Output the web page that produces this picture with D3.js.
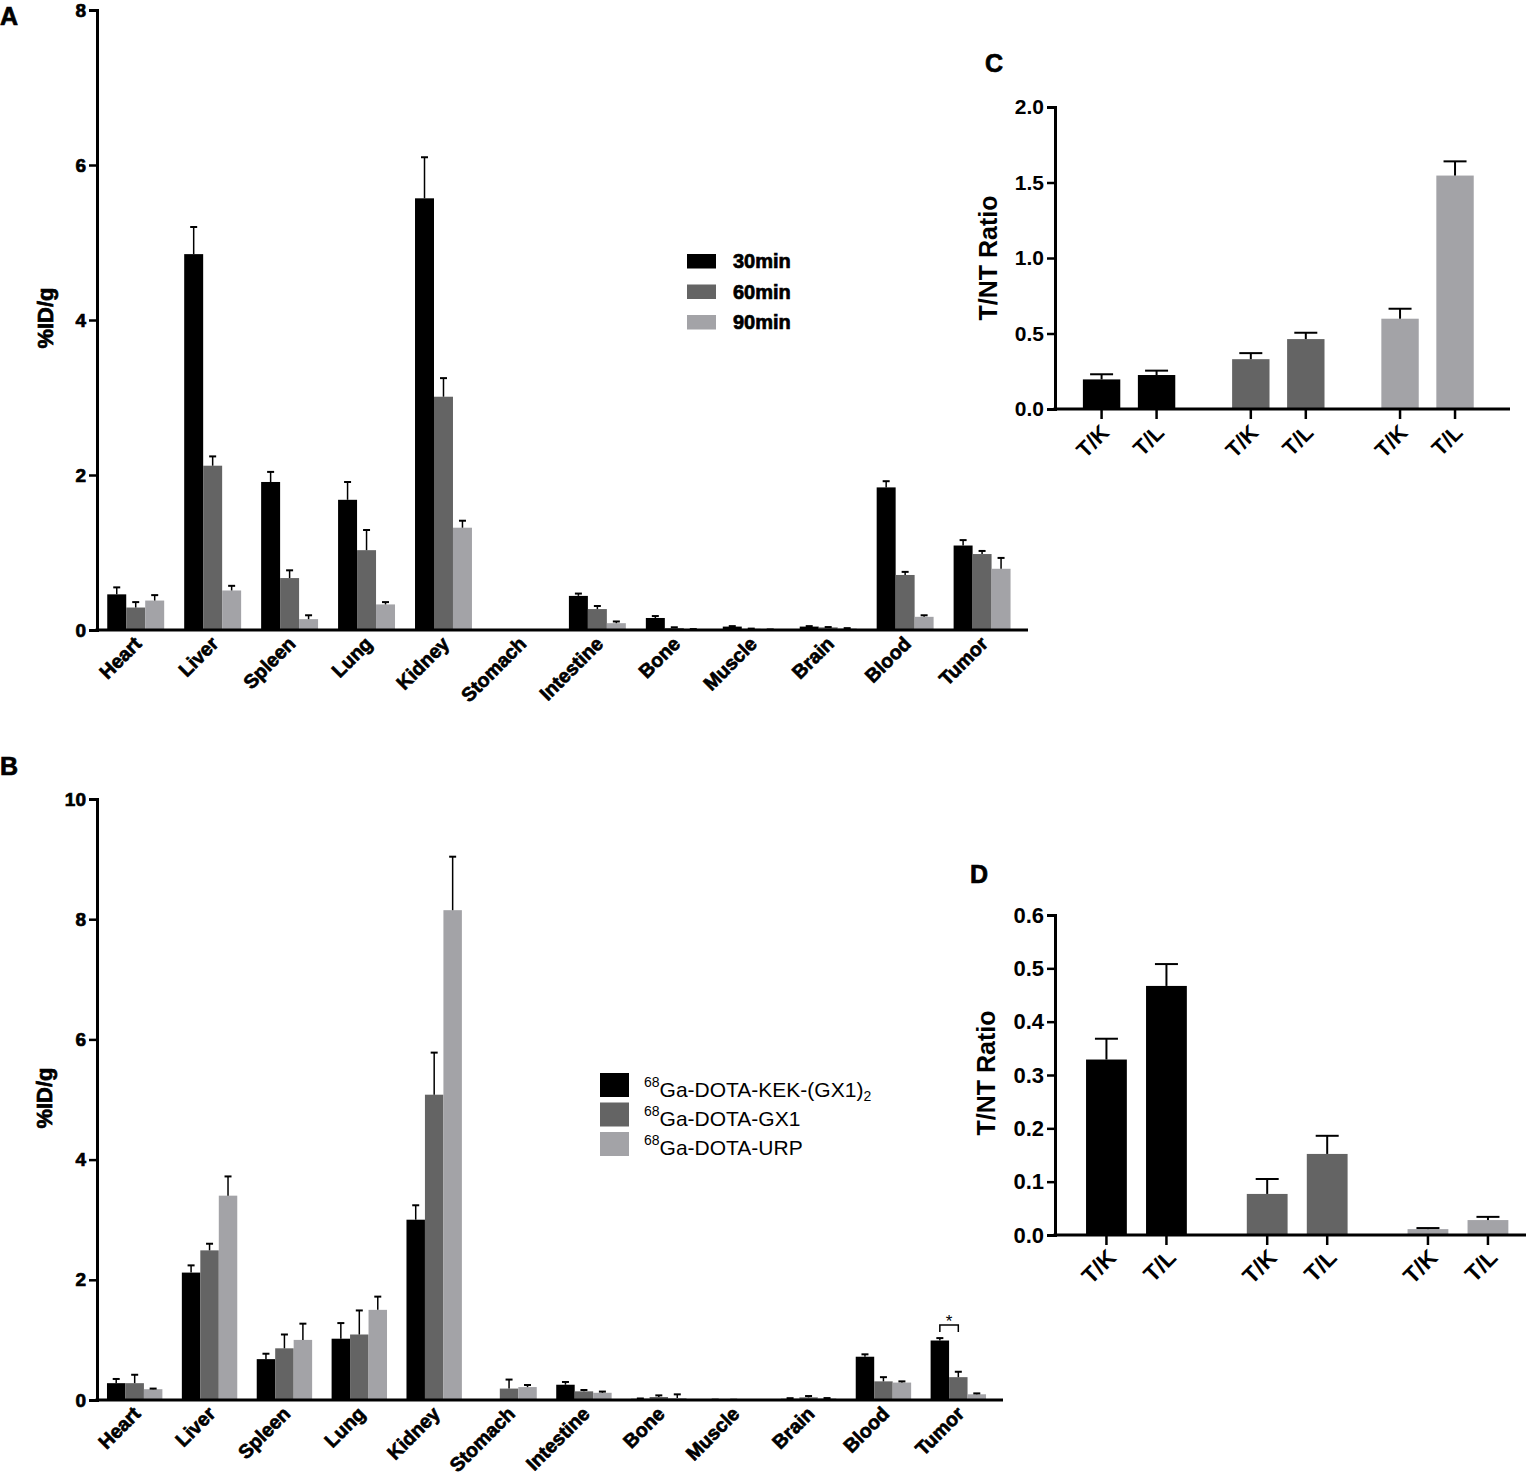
<!DOCTYPE html>
<html>
<head>
<meta charset="utf-8">
<script src="https://cdn.jsdelivr.net/npm/d3@7"></script>
<style>
  body { margin: 0; background: #fff; }
  svg { font-family: "Liberation Sans", Arial, sans-serif; }
  .bold { font-weight: bold; }
  .heavy { font-weight: bold; stroke: #000; stroke-width: 0.7px; paint-order: stroke; }
</style>
</head>
<body>
<svg width="1526" height="1476"></svg>
<script>
const svg = d3.select('svg');

// ---- data ----
const organs = ['Heart', 'Liver', 'Spleen', 'Lung', 'Kidney', 'Stomach',
  'Intestine', 'Bone', 'Muscle', 'Brain', 'Blood', 'Tumor'];

// panel A: time points
const timeSeries = ['30min', '60min', '90min'];
const a30 = [0.46, 4.85, 1.91, 1.68, 5.57, 0, 0.44, 0.155, 0.044, 0.044, 1.84, 1.09];
const a30Err = [0.09, 0.35, 0.13, 0.23, 0.53, 0, 0.03, 0.025, 0.006, 0.006, 0.08, 0.07];
const a60 = [0.29, 2.12, 0.67, 1.03, 3.01, 0, 0.27, 0.026, 0.015, 0.034, 0.71, 0.98];
const a60Err = [0.07, 0.12, 0.10, 0.26, 0.24, 0, 0.04, 0.009, 0.003, 0.004, 0.04, 0.04];
const a90 = [0.38, 0.51, 0.14, 0.33, 1.32, 0, 0.088, 0.01, 0.006, 0.02, 0.17, 0.79];
const a90Err = [0.07, 0.06, 0.05, 0.03, 0.09, 0, 0.022, 0.002, 0.001, 0.004, 0.02, 0.14];
const aTicks = [0, 2, 4, 6, 8];

// panel B: tracers
const tracers = ['KEK-(GX1)', 'GX1', 'URP'];
const b1 = [0.28, 2.12, 0.68, 1.02, 3.00, 0, 0.254, 0.02, 0.005, 0.02, 0.72, 0.99];
const b1Err = [0.07, 0.12, 0.09, 0.26, 0.24, 0, 0.046, 0.005, 0.001, 0.01, 0.04, 0.04];
const b2 = [0.28, 2.49, 0.86, 1.09, 5.08, 0.19, 0.144, 0.05, 0.003, 0.044, 0.31, 0.38];
const b2Err = [0.14, 0.11, 0.23, 0.40, 0.70, 0.15, 0.022, 0.027, 0.001, 0.022, 0.07, 0.09];
const b3 = [0.18, 3.40, 1.00, 1.50, 8.15, 0.215, 0.12, 0.033, 0, 0.028, 0.29, 0.095];
const b3Err = [0.01, 0.32, 0.27, 0.22, 0.89, 0.035, 0.02, 0.061, 0, 0.004, 0.02, 0.015];
const bTicks = [0, 2, 4, 6, 8, 10];

// panels C and D: ratios
const ratioLabels = ['T/K', 'T/L'];
const c30 = [0.196, 0.225], c30Err = [0.034, 0.029];
const c60 = [0.33, 0.463], c60Err = [0.04, 0.042];
const c90 = [0.598, 1.546], c90Err = [0.066, 0.094];
const cTicks = [0, 0.5, 1.0, 1.5, 2.0];

const dKek = [0.329, 0.467], dKekErr = [0.039, 0.041];
const dGx1 = [0.077, 0.152], dGx1Err = [0.028, 0.034];
const dUrp = [0.011, 0.028], dUrpErr = [0.002, 0.006];
const dTicks = [0, 0.1, 0.2, 0.3, 0.4, 0.5, 0.6];

const colors = ['#000000', '#646464', '#a3a3a7'];

// ---- grouped organ chart (A, B) ----
const organPanel = cfg => {
  const g = svg.append('g');
  const x0 = d3.scaleBand().domain(organs)
    .range([cfg.left, cfg.right])
    .paddingInner(0.26).paddingOuter(0.18).align(0.37);
  const x1 = d3.scaleBand().domain(d3.range(cfg.values.length))
    .range([0, x0.bandwidth()]);
  const y = d3.scaleLinear().domain(cfg.domain).range([cfg.bottom, cfg.top]);

  const rows = [];
  cfg.values.forEach((vals, s) => vals.forEach((v, i) =>
    rows.push({organ: organs[i], s, v, e: cfg.errors[s][i]})));

  g.selectAll('rect.bar').data(rows).enter().append('rect')
    .attr('x', d => x0(d.organ) + x1(d.s))
    .attr('y', d => y(d.v))
    .attr('width', x1.bandwidth())
    .attr('height', d => y(0) - y(d.v))
    .attr('fill', d => colors[d.s]);

  const errRows = rows.filter(d => d.v > 0);
  const cx = d => x0(d.organ) + x1(d.s) + x1.bandwidth() / 2;
  g.selectAll('line.stem').data(errRows).enter().append('line')
    .attr('x1', cx).attr('x2', cx)
    .attr('y1', d => y(d.v)).attr('y2', d => y(d.v + d.e))
    .attr('stroke', '#000').attr('stroke-width', 1.5);
  g.selectAll('line.cap').data(errRows).enter().append('line')
    .attr('x1', d => cx(d) - 3.5).attr('x2', d => cx(d) + 3.5)
    .attr('y1', d => y(d.v + d.e)).attr('y2', d => y(d.v + d.e))
    .attr('stroke', '#000').attr('stroke-width', 2);

  // y axis
  const yAxis = d3.axisLeft(y).tickValues(cfg.ticks).tickSize(8).tickPadding(3);
  const yG = g.append('g').attr('transform', `translate(${cfg.left},0)`).call(yAxis)
    .attr('font-family', null);
  yG.select('.domain').attr('stroke-width', 3);
  yG.selectAll('.tick line').attr('stroke-width', 2.5);
  yG.selectAll('.tick text').attr('class', 'heavy')
    .attr('font-size', 19).attr('fill', '#000');

  // x axis line (no ticks)
  g.append('line')
    .attr('x1', cfg.left - 1.5).attr('x2', cfg.right)
    .attr('y1', y(0)).attr('y2', y(0))
    .attr('stroke', '#000').attr('stroke-width', 3);

  g.selectAll('text.xlab').data(organs).enter().append('text')
    .attr('class', 'heavy')
    .attr('font-size', 19.5)
    .attr('text-anchor', 'end')
    .attr('transform', d =>
      `translate(${x0(d) + x0.bandwidth() / 2 + 7},${y(0) + 15}) rotate(-45)`)
    .text(d => d);

  g.append('text')
    .attr('class', 'heavy')
    .attr('font-size', 22)
    .attr('text-anchor', 'middle')
    .attr('transform', `translate(${cfg.labelX},${cfg.labelY}) rotate(-90)`)
    .text('%ID/g');

  return {g, x0, x1, y};
};

// ---- ratio chart (C, D) ----
const ratioPanel = cfg => {
  const g = svg.append('g');
  const groups = d3.range(cfg.values.length);
  const x0 = d3.scaleBand().domain(groups)
    .range([cfg.left, cfg.right])
    .paddingInner(cfg.padInner).paddingOuter(cfg.padOuter).align(cfg.align);
  const x1 = d3.scaleBand().domain(ratioLabels)
    .range([0, x0.bandwidth()])
    .paddingInner(0.32).paddingOuter(0.16);
  const y = d3.scaleLinear().domain(cfg.domain).range([cfg.bottom, cfg.top]);

  const rows = [];
  cfg.values.forEach((vals, s) => vals.forEach((v, i) =>
    rows.push({s, r: ratioLabels[i], v, e: cfg.errors[s][i]})));
  const cx = d => x0(d.s) + x1(d.r) + x1.bandwidth() / 2;

  g.selectAll('rect').data(rows).enter().append('rect')
    .attr('x', d => x0(d.s) + x1(d.r))
    .attr('y', d => y(d.v))
    .attr('width', x1.bandwidth())
    .attr('height', d => y(0) - y(d.v))
    .attr('fill', d => colors[d.s]);

  g.selectAll('line.stem').data(rows).enter().append('line')
    .attr('x1', cx).attr('x2', cx)
    .attr('y1', d => y(d.v)).attr('y2', d => y(d.v + d.e))
    .attr('stroke', '#000').attr('stroke-width', 2);
  g.selectAll('line.cap').data(rows).enter().append('line')
    .attr('x1', d => cx(d) - 11.5).attr('x2', d => cx(d) + 11.5)
    .attr('y1', d => y(d.v + d.e)).attr('y2', d => y(d.v + d.e))
    .attr('stroke', '#000').attr('stroke-width', 2);

  const yAxis = d3.axisLeft(y).tickValues(cfg.ticks)
    .tickFormat(d3.format('.1f')).tickSize(8).tickPadding(3);
  const yG = g.append('g').attr('transform', `translate(${cfg.left},0)`).call(yAxis)
    .attr('font-family', null);
  yG.select('.domain').attr('stroke-width', 3);
  yG.selectAll('.tick line').attr('stroke-width', 2.5);
  yG.selectAll('.tick text').attr('class', 'bold')
    .attr('font-size', cfg.tickSize).attr('fill', '#000');

  g.append('line')
    .attr('x1', cfg.left - 1.5).attr('x2', cfg.axisEnd)
    .attr('y1', y(0)).attr('y2', y(0))
    .attr('stroke', '#000').attr('stroke-width', 3);

  g.selectAll('line.xtick').data(rows).enter().append('line')
    .attr('x1', cx).attr('x2', cx)
    .attr('y1', y(0)).attr('y2', y(0) + 10)
    .attr('stroke', '#000').attr('stroke-width', 2.5);

  g.selectAll('text.xlab').data(rows).enter().append('text')
    .attr('class', 'bold')
    .attr('font-size', cfg.labelSize)
    .attr('text-anchor', 'end')
    .attr('transform', d => `translate(${cx(d) + cfg.labDx},${y(0) + cfg.labDy}) rotate(-45)`)
    .text(d => d.r);

  g.append('text')
    .attr('class', 'bold')
    .attr('font-size', 25)
    .attr('text-anchor', 'middle')
    .attr('transform', `translate(${cfg.labelX},${cfg.labelY}) rotate(-90)`)
    .text('T/NT Ratio');
};

// ---- A ----
organPanel({
  left: 97, right: 1028, top: 10, bottom: 630, domain: [0, 8], ticks: aTicks,
  values: [a30, a60, a90], errors: [a30Err, a60Err, a90Err],
  labelX: 53, labelY: 318
});

// legend A
const legA = svg.append('g');
legA.selectAll('rect').data(timeSeries).enter().append('rect')
  .attr('x', 687).attr('y', (d, i) => 254 + i * 30.5)
  .attr('width', 29).attr('height', 14.5)
  .attr('fill', (d, i) => colors[i]);
legA.selectAll('text').data(timeSeries).enter().append('text')
  .attr('class', 'heavy').attr('font-size', 20)
  .attr('x', 733).attr('y', (d, i) => 268 + i * 30.5)
  .text(d => d);

// ---- B ----
const pB = organPanel({
  left: 97, right: 1003, top: 799, bottom: 1400, domain: [0, 10], ticks: bTicks,
  values: [b1, b2, b3], errors: [b1Err, b2Err, b3Err],
  labelX: 52, labelY: 1098
});

// significance bracket on Tumor (tracer 1 vs tracer 2)
const bx = s => pB.x0('Tumor') + pB.x1(s) + pB.x1.bandwidth() / 2;
svg.append('path')
  .attr('d', `M${bx(0)},${pB.y(1.13)}V${pB.y(1.25)}H${bx(1)}V${pB.y(1.13)}`)
  .attr('fill', 'none').attr('stroke', '#000').attr('stroke-width', 1.5);
svg.append('text')
  .attr('x', (bx(0) + bx(1)) / 2).attr('y', pB.y(1.25) + 2)
  .attr('text-anchor', 'middle').attr('font-size', 17)
  .text('*');

// legend B
const legB = svg.append('g');
legB.selectAll('rect').data(tracers).enter().append('rect')
  .attr('x', 600).attr('y', (d, i) => 1073 + i * 29.5)
  .attr('width', 29).attr('height', 24)
  .attr('fill', (d, i) => colors[i]);
const legBText = legB.selectAll('text').data(tracers).enter().append('text')
  .attr('font-size', 21)
  .attr('x', 644).attr('y', (d, i) => 1097 + i * 29);
legBText.append('tspan').attr('font-size', 14).attr('dy', -10).text('68');
legBText.append('tspan').attr('dy', 10).text(d => 'Ga-DOTA-' + d);
legBText.filter((d, i) => i === 0).append('tspan')
  .attr('font-size', 14).attr('dy', 4).text('2');

// ---- C ----
ratioPanel({
  left: 1055, right: 1510, axisEnd: 1510, top: 107, bottom: 409,
  domain: [0, 2], ticks: cTicks,
  values: [c30, c60, c90], errors: [c30Err, c60Err, c90Err],
  padInner: 0.263, padOuter: 0.156, align: 0.41,
  tickSize: 21, labelSize: 22, labDx: 9, labDy: 25,
  labelX: 997, labelY: 258
});

// ---- D ----
ratioPanel({
  left: 1055, right: 1524, axisEnd: 1526, top: 915, bottom: 1235,
  domain: [0, 0.6], ticks: dTicks,
  values: [dKek, dGx1, dUrp], errors: [dKekErr, dGx1Err, dUrpErr],
  padInner: 0.2535, padOuter: 0.0855, align: 0.78,
  tickSize: 22, labelSize: 23, labDx: 11, labDy: 24,
  labelX: 995, labelY: 1073
});

// panel letters
const letters = [['A', 0, 25], ['B', 0, 775], ['C', 985, 72], ['D', 970, 883]];
svg.selectAll('text.letter').data(letters).enter().append('text')
  .attr('class', 'heavy').attr('font-size', 25)
  .attr('x', d => d[1]).attr('y', d => d[2])
  .text(d => d[0]);
</script>
</body>
</html>
